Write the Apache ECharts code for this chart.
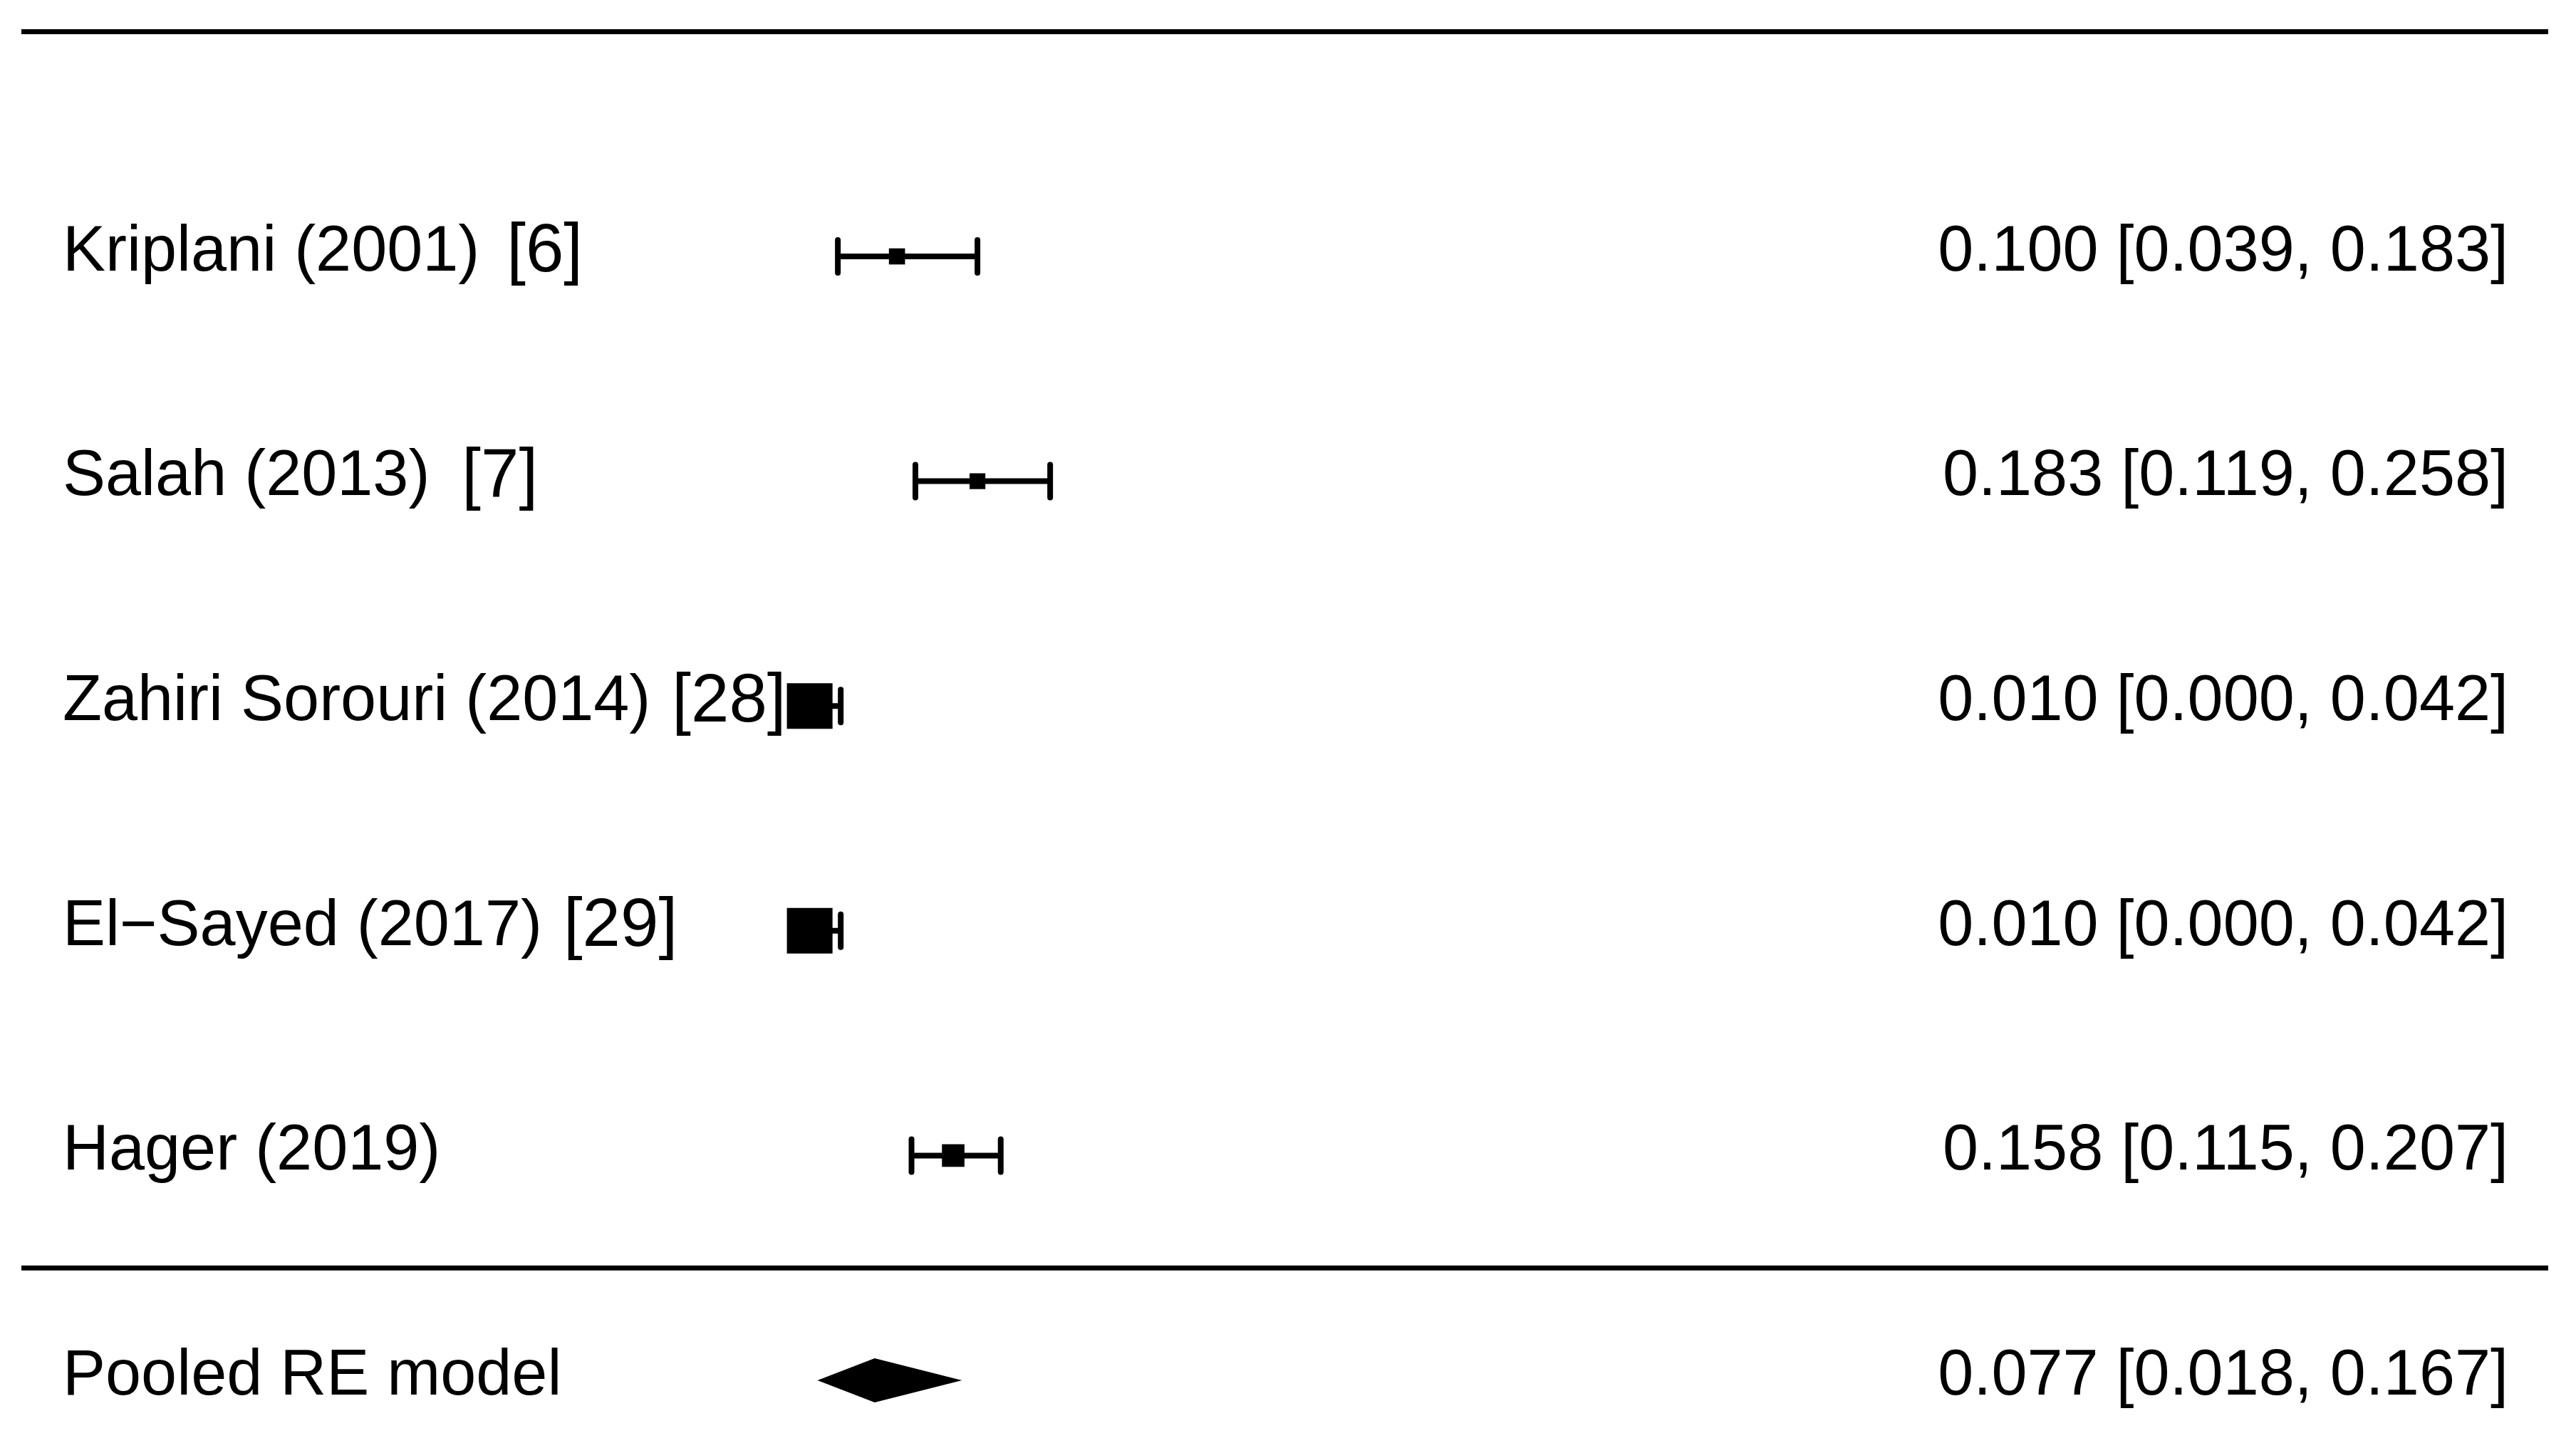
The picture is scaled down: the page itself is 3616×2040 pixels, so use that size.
<!DOCTYPE html>
<html>
<head>
<meta charset="utf-8">
<script src="https://cdn.jsdelivr.net/npm/echarts@6/dist/echarts.min.js"></script>
<style>
html,body{margin:0;padding:0;background:#fff;}
#chart{width:3616px;height:2040px;}
</style>
</head>
<body>
<div id="chart"></div>
<script>
// ---- data ----
const studies   = ["Kriplani (2001)", "Salah (2013)", "Zahiri Sorouri (2014)", "El\u2212Sayed (2017)", "Hager (2019)"];
const citations = ["[6]", "[7]", "[28]", "[29]", ""];
const estimates = [0.100, 0.183, 0.010, 0.010, 0.158];
const ciLower   = [0.039, 0.119, 0.000, 0.000, 0.115];
const ciUpper   = [0.183, 0.258, 0.042, 0.042, 0.207];
const relWeights = [0.03, 0.02, 1.0, 1.0, 0.24];
const pooledLabel = "Pooled RE model";
const pooledEst = [0.077];
const pooledLower = [0.018];
const pooledUpper = [0.167];
// rows where horizontal rules are drawn
const ruleRows = [-1, 4.5];

// ---- layout / style constants ----
const FONT = '"Liberation Sans", Arial, Helvetica, sans-serif';
const LABEL_SIZE = 90, EST_SIZE = 90, CITE_SIZE = 96;
const LABEL_X = 88, EST_X = 3521;
const CITE_GAPS = [38, 45, 30, 30, 0];
const RULE_X0 = 30, RULE_X1 = 3577;
const TEXT_DY = -5;
const LW = 8;
const WHISK_H = 23;
const SQ_UNIT = 42.7;
const DIAMOND_H = 31;

function fmt(v){ return v.toFixed(3); }

const studyData = studies.map((s, i) => [i, estimates[i], ciLower[i], ciUpper[i], relWeights[i]]);

const chart = echarts.init(document.getElementById('chart'), null, {renderer: 'canvas'});

chart.setOption({
  backgroundColor: '#ffffff',
  animation: false,
  grid: {left: 1123, right: 3616 - 2484, top: 360, bottom: 2040 - 1938},
  xAxis: {type: 'value', min: 0, max: 1, show: false},
  yAxis: {type: 'value', min: 0, max: 5, inverse: true, show: false},
  series: [
    {
      type: 'custom',
      name: 'rules',
      data: ruleRows.map(r => [r]),
      renderItem: function(params, api){
        const y = api.coord([0, api.value(0)])[1];
        return {type: 'line', shape: {x1: RULE_X0, y1: y, x2: RULE_X1, y2: y},
                style: {stroke: '#000', lineWidth: 7}};
      }
    },
    {
      type: 'custom',
      name: 'studies',
      data: studyData,
      renderItem: function(params, api){
        const i = api.value(0);
        const pE = api.coord([api.value(1), i]);
        const pL = api.coord([api.value(2), i]);
        const pU = api.coord([api.value(3), i]);
        const y = pE[1];
        const sz = SQ_UNIT * (0.5 + api.value(4));
        const idx = params.dataIndex;
        const cite = citations[idx];
        const labelText = cite ? '{a|' + studies[idx] + '}{c|' + cite + '}' : '{a|' + studies[idx] + '}';
        return {
          type: 'group',
          children: [
            {type: 'line', shape: {x1: pL[0], y1: y, x2: pU[0], y2: y}, style: {stroke: '#000', lineWidth: LW}},
            {type: 'line', shape: {x1: pL[0], y1: y - WHISK_H, x2: pL[0], y2: y + WHISK_H}, style: {stroke: '#000', lineWidth: LW, lineCap: 'round'}},
            {type: 'line', shape: {x1: pU[0], y1: y - WHISK_H, x2: pU[0], y2: y + WHISK_H}, style: {stroke: '#000', lineWidth: LW, lineCap: 'round'}},
            {type: 'rect', shape: {x: pE[0] - sz / 2, y: y - sz / 2, width: sz, height: sz}, style: {fill: '#000'}},
            {type: 'text', x: LABEL_X, y: y + TEXT_DY, style: {
              text: labelText, textAlign: 'left', textVerticalAlign: 'middle',
              rich: {
                a: {fontFamily: FONT, fontSize: LABEL_SIZE, fill: '#000'},
                c: {fontFamily: FONT, fontSize: CITE_SIZE, fill: '#000', padding: [0, 0, 0, CITE_GAPS[idx]]}
              }
            }},
            {type: 'text', x: EST_X, y: y + TEXT_DY, style: {
              text: fmt(estimates[idx]) + ' [' + fmt(ciLower[idx]) + ', ' + fmt(ciUpper[idx]) + ']',
              fontFamily: FONT, fontSize: EST_SIZE, fill: '#000', textAlign: 'right', textVerticalAlign: 'middle'
            }}
          ]
        };
      }
    },
    {
      type: 'custom',
      name: 'pooled',
      data: [[5, pooledEst[0], pooledLower[0], pooledUpper[0]]],
      renderItem: function(params, api){
        const r = api.value(0);
        const pE = api.coord([api.value(1), r]);
        const pL = api.coord([api.value(2), r]);
        const pU = api.coord([api.value(3), r]);
        const y = pE[1];
        return {
          type: 'group',
          children: [
            {type: 'polygon', shape: {points: [[pL[0], y], [pE[0], y - DIAMOND_H], [pU[0], y], [pE[0], y + DIAMOND_H]]},
             style: {fill: '#000'}},
            {type: 'text', x: LABEL_X, y: y + TEXT_DY, style: {
              text: pooledLabel, fontFamily: FONT, fontSize: LABEL_SIZE, fill: '#000',
              textAlign: 'left', textVerticalAlign: 'middle'
            }},
            {type: 'text', x: EST_X, y: y + TEXT_DY, style: {
              text: fmt(pooledEst[0]) + ' [' + fmt(pooledLower[0]) + ', ' + fmt(pooledUpper[0]) + ']',
              fontFamily: FONT, fontSize: EST_SIZE, fill: '#000', textAlign: 'right', textVerticalAlign: 'middle'
            }}
          ]
        };
      }
    }
  ]
});
</script>
</body>
</html>
